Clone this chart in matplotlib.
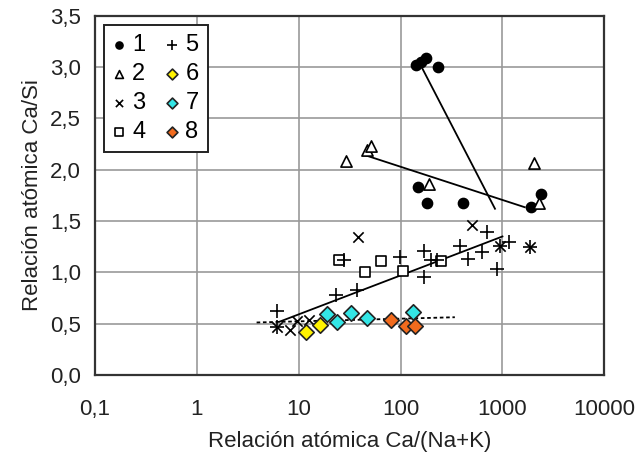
import matplotlib
matplotlib.use("Agg")
import matplotlib.pyplot as plt
from matplotlib.ticker import FixedLocator, FixedFormatter, NullLocator

plt.rcParams['font.family'] = ['Liberation Sans', 'DejaVu Sans']

# ---- data ----
s1_x = [143, 159, 177, 232, 149, 182, 410, 1905, 2416]
s1_y = [3.02, 3.05, 3.09, 3.00, 1.83, 1.68, 1.68, 1.635, 1.76]

s2_x = [29, 46.8, 51.8, 189, 2063, 2270]
s2_y = [2.09, 2.19, 2.23, 1.86, 2.07, 1.68]

s3_x = [37.8, 499, 6.1, 8.2, 9.7, 12.7, 940, 1860]
s3_y = [1.34, 1.46, 0.47, 0.435, 0.528, 0.535, 1.26, 1.25]

s4_x = [25, 44.7, 64, 106, 252]
s4_y = [1.118, 1.004, 1.111, 1.014, 1.111]

s5_x = [6.07, 6.1, 23.2, 37, 28, 98, 171, 171, 201, 228, 382, 461, 623, 698, 890, 940, 1163, 1860]
s5_y = [0.625, 0.47, 0.777, 0.826, 1.12, 1.15, 1.208, 0.955, 1.118, 1.12, 1.254, 1.134, 1.198, 1.393, 1.037, 1.26, 1.30, 1.25]

s6_x = [11.8, 16.2]
s6_y = [0.415, 0.486]

s7_x = [18.8, 23.9, 32.5, 46.4, 133]
s7_y = [0.59, 0.512, 0.60, 0.551, 0.615]

s8_x = [79.8, 113, 140]
s8_y = [0.534, 0.476, 0.476]

# trend lines (endpoints)
t1_x = [161, 845]
t1_y = [3.00, 1.62]
t2_x = [43.9, 1655]
t2_y = [2.145, 1.635]
t3_x = [6.5, 1000]
t3_y = [0.52, 1.35]
t4_x = [3.86, 341]
t4_y = [0.512, 0.563]

x_ticks = [0.1, 1, 10, 100, 1000, 10000]
x_labels = ['0,1', '1', '10', '100', '1000', '10000']
y_ticks = [0.0, 0.5, 1.0, 1.5, 2.0, 2.5, 3.0, 3.5]
y_labels = ['0,0', '0,5', '1,0', '1,5', '2,0', '2,5', '3,0', '3,5']

# ---- figure ----
fig = plt.figure(figsize=(6.38, 4.57), dpi=100)
ax = fig.add_axes([0.1489, 0.1794, 0.7983, 0.786])

ax.set_xscale('log')
ax.set_xlim(0.1, 10000)
ax.set_ylim(0, 3.5)

ax.xaxis.set_major_locator(FixedLocator(x_ticks))
ax.xaxis.set_major_formatter(FixedFormatter(x_labels))
ax.xaxis.set_minor_locator(NullLocator())
ax.yaxis.set_major_locator(FixedLocator(y_ticks))
ax.yaxis.set_major_formatter(FixedFormatter(y_labels))

ax.grid(True, color='#999999', linewidth=1.2)
ax.set_axisbelow(True)
ax.tick_params(axis='both', length=0, labelsize=16, colors='#222222')
ax.tick_params(axis='x', pad=17)
ax.tick_params(axis='y', pad=10)
for sp in ax.spines.values():
    sp.set_color('#333333')
    sp.set_linewidth(1.6)

# trend lines
ax.plot(t1_x, t1_y, color='black', lw=1.3, zorder=2)
ax.plot(t2_x, t2_y, color='black', lw=1.3, zorder=2)
ax.plot(t3_x, t3_y, color='black', lw=1.3, zorder=2)
ax.plot(t4_x, t4_y, color='black', lw=1.3, ls=(0, (2, 1.5)), zorder=2)

h1 = ax.scatter(s1_x, s1_y, marker='o', s=55, c='black', zorder=3, label='1')
h2 = ax.scatter(s2_x, s2_y, marker='^', s=65, facecolors='white', edgecolors='black', linewidths=1.2, zorder=3, label='2')
h3 = ax.scatter(s3_x, s3_y, marker='x', s=55, c='black', linewidths=1.2, zorder=3, label='3')
h4 = ax.scatter(s4_x, s4_y, marker='s', s=55, facecolors='white', edgecolors='black', linewidths=1.2, zorder=3, label='4')
h5 = ax.scatter(s5_x, s5_y, marker='+', s=95, c='black', linewidths=1.2, zorder=3, label='5')
h6 = ax.scatter(s6_x, s6_y, marker='D', s=62, facecolors='#FFF200', edgecolors='#222222', linewidths=1.2, zorder=4, label='6')
h7 = ax.scatter(s7_x, s7_y, marker='D', s=62, facecolors='#33E6E6', edgecolors='#222222', linewidths=1.2, zorder=4, label='7')
h8 = ax.scatter(s8_x, s8_y, marker='D', s=62, facecolors='#F26B1D', edgecolors='#222222', linewidths=1.2, zorder=4, label='8')

leg = ax.legend(handles=[h1, h2, h3, h4, h5, h6, h7, h8], ncol=2, loc='upper left',
                bbox_to_anchor=(0.018, 0.975), fontsize=17, markerscale=0.7,
                handlelength=0.5, handletextpad=0.3, columnspacing=0.9,
                labelspacing=0.3, borderpad=0.38, fancybox=False, frameon=True,
                scatterpoints=1, borderaxespad=0.0)
leg.get_frame().set_edgecolor('#222222')
leg.get_frame().set_linewidth(1.4)
leg.get_frame().set_alpha(1)

ax.set_xlabel('Relación atómica Ca/(Na+K)', fontsize=16, color='#222222', labelpad=8)
ax.set_ylabel('Relación atómica Ca/Si', fontsize=16, color='#222222', labelpad=5)

fig.savefig('out.png', dpi=100)
